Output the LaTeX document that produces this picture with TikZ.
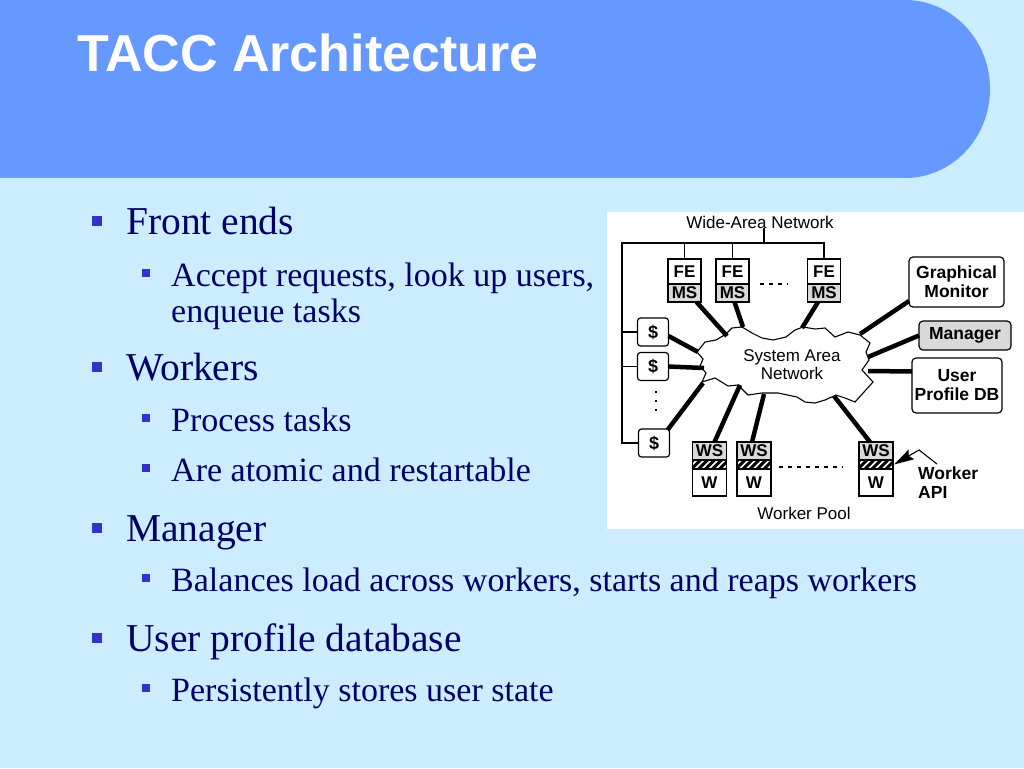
\documentclass[tikz,border=0pt]{standalone}
\usepackage{fontspec}
\setmainfont{Liberation Serif}
\newfontfamily\arialfont{Liberation Sans}
\usetikzlibrary{positioning,arrows.meta,calc}

\definecolor{slidebg}{RGB}{204,236,255}
\definecolor{titleband}{RGB}{102,153,255}
\definecolor{bodytext}{RGB}{0,0,102}
\definecolor{bulletblue}{RGB}{51,51,204}
\definecolor{boxgray}{RGB}{217,217,217}

\begin{document}
\begin{tikzpicture}[x=1pt,y=-1pt,
		headline/.style={anchor=base west, inner sep=0, text=white, font=\arialfont\bfseries\fontsize{52pt}{60pt}\selectfont},
		itemA/.style={anchor=base west, inner sep=0, text=bodytext, font=\fontsize{39.5pt}{47pt}\selectfont},
		itemB/.style={anchor=base west, inner sep=0, text=bodytext, font=\fontsize{34pt}{40pt}\selectfont},
		bulletA/.style={fill=bulletblue, inner sep=0, minimum size=10},
		bulletB/.style={fill=bulletblue, inner sep=0, minimum size=8},
		netlabel/.style={inner sep=0, align=center, font=\arialfont\fontsize{17pt}{18pt}\selectfont},
		boldlabel/.style={inner sep=0, align=center, font=\arialfont\bfseries\fontsize{17.5pt}{19pt}\selectfont},
		part/.style={draw, line width=1.2, inner sep=0, outer sep=0, font=\arialfont\bfseries\fontsize{17pt}{17pt}\selectfont},
		fepart/.style={part, fill=white, minimum width=33, minimum height=25},
		mspart/.style={part, fill=boxgray, minimum width=33, minimum height=18},
		wspart/.style={part, fill=boxgray, minimum width=34, minimum height=18},
		wpart/.style={part, fill=white, minimum width=34, minimum height=27},
		hatchpart/.style={part, fill=white, minimum width=34, minimum height=9,
			path picture={\foreach \k in {-2,...,6} \draw[line width=3] ($(path picture bounding box.south west)+(\k*7-3,2)$) -- ++(14,-14);}},
		cache/.style={part, fill=white, rounded corners=3, minimum width=31, minimum height=28, font=\arialfont\bfseries\fontsize{18pt}{18pt}\selectfont},
		sidebox/.style={draw, line width=1.2, rounded corners=4, inner sep=0, outer sep=0, align=center, font=\arialfont\bfseries\fontsize{17.5pt}{19pt}\selectfont},
		tree/.style={line width=1.1},
		wire/.style={line width=4.5}]
		%%%%% START %%%%%
		
		\useasboundingbox (0,0) rectangle (1024,768);
		\fill[slidebg] (0,0) rectangle (1024,768);
		\fill[titleband] (0,0) rectangle (905,178);
		\fill[titleband] (905,89) ellipse [x radius=85pt, y radius=89pt];
		
		\node[headline] (title) at (77,71) {TACC Architecture};
		
		% bullet list
		\node[bulletA] (p1) at (97,221) {};
		\node[itemA] (t1) at (126,234) {Front ends};
		\node[bulletB] (p1a) at (145.5,273) {};
		\node[itemB] (t1a) at (171,286) {Accept requests, look up users,};
		\node[itemB] (t1b) at (171,322) {enqueue tasks};
		
		\node[bulletA] (p2) at (97,367) {};
		\node[itemA] (t2) at (126,380) {Workers};
		\node[bulletB] (p2a) at (145.5,418) {};
		\node[itemB] (t2a) at (171,431) {Process tasks};
		\node[bulletB] (p2b) at (145.5,468) {};
		\node[itemB] (t2b) at (171,481) {Are atomic and restartable};
		
		\node[bulletA] (p3) at (97,528) {};
		\node[itemA] (t3) at (126,541) {Manager};
		\node[bulletB] (p3a) at (145.5,578) {};
		\node[itemB] (t3a) at (171,591) {Balances load across workers, starts and reaps workers};
		
		\node[bulletA] (p4) at (97,638) {};
		\node[itemA] (t4) at (126,651) {User profile database};
		\node[bulletB] (p4a) at (145.5,688) {};
		\node[itemB] (t4a) at (171,701) {Persistently stores user state};
		
		% diagram
		\fill[white] (607,212) rectangle (1024,529);
		
		\node[netlabel] (wan) at (760,222) {Wide-Area Network};
		\node[netlabel] (pool) at (804,513) {Worker Pool};
		
		\draw[tree, fill=white] (697,352) -- (705,342) -- (716,340) -- (726,334) -- (732,328) -- (742,327) -- (752,333) -- (762,338) -- (773,340) -- (786,337) -- (795,330) -- (803,327) -- (815,329) -- (825,328) -- (835,337) -- (848,332) -- (860,335) -- (870,343) -- (866,352) -- (869,360) -- (862,370) -- (873,382) -- (864,392) -- (855,402) -- (845,398) -- (836,395) -- (825,400) -- (815,403) -- (805,402) -- (797,397) -- (778,393) -- (762,393) -- (748,395) -- (738,385) -- (728,386) -- (715,378) -- (702,382) -- (706,373) -- (700,366) -- (703,359) -- cycle;
		\node[netlabel] (san) at (792,365) {System Area\\Network};
		
		\node[fepart] (fe1) at (684.5,271.5) {FE};
		\node[mspart, below=0pt of fe1] (ms1) {MS};
		\node[fepart] (fe2) at (732.5,271.5) {FE};
		\node[mspart, below=0pt of fe2] (ms2) {MS};
		\node[fepart] (fe3) at (824,271.5) {FE};
		\node[mspart, below=0pt of fe3] (ms3) {MS};
		
		\node[cache] (d1) at (653,332) {\$};
		\node[cache] (d2) at (653,366.5) {\$};
		\node[cache] (d3) at (654,443) {\$};
		
		\node[wspart] (ws1) at (709.5,451) {WS};
		\node[hatchpart, below=0pt of ws1] (h1) {};
		\node[wpart, below=0pt of h1] (w1) {W};
		\node[wspart] (ws2) at (754,451) {WS};
		\node[hatchpart, below=0pt of ws2] (h2) {};
		\node[wpart, below=0pt of h2] (w2) {W};
		\node[wspart] (ws3) at (876,451) {WS};
		\node[hatchpart, below=0pt of ws3] (h3) {};
		\node[wpart, below=0pt of h3] (w3) {W};
		
		\node[sidebox, minimum width=95, minimum height=50] (mon) at (956.5,282) {Graphical\\Monitor};
		\node[sidebox, fill=boxgray, minimum width=92, minimum height=29] (mgr) at (965,335.5) {Manager};
		\node[sidebox, minimum width=90, minimum height=55] (db) at (957,385.5) {User\\Profile DB};
		
		\node[boldlabel, align=left, anchor=north west] (api) at (918,467) {Worker\\API};
		
		% wide-area tree
		\coordinate (wanL) at (622,243);
		\draw[tree] (fe3.north) |- (wanL) |- (d3.west);
		\draw[tree] (fe1.north) -- (fe1.north |- wanL);
		\draw[tree] (fe2.north) -- (fe2.north |- wanL);
		\draw[tree] (wan.south -| 764,0) -- (764,243);
		\draw[tree] (wanL |- d1.west) -- (d1.west);
		\draw[tree] (wanL |- d2.west) -- (d2.west);
		
		% dots
		\draw[tree, dash pattern=on 4 off 5] (760,284) -- (788,284);
		\draw[tree, line width=1.6, dash pattern=on 2 off 7] (656,391) -- (656,412);
		\draw[tree, dash pattern=on 4 off 5] (779,467) -- (843,467);
		
		% links to the system area network
		\coordinate (sfe1) at (727,336);
		\coordinate (sfe2) at (743,327);
		\coordinate (sfe3) at (802,328);
		\coordinate (sd1) at (698,352);
		\coordinate (sd2) at (704,368);
		\coordinate (sd3) at (703,383);
		\coordinate (sws1) at (740,385);
		\coordinate (sws2) at (764,394);
		\coordinate (sws3) at (834,396);
		\coordinate (smon) at (860,334);
		\coordinate (smgr) at (868,357);
		\coordinate (sdb) at (868,371);
		
		\draw[wire] ([xshift=12]ms1.south) -- (sfe1);
		\draw[wire] ([xshift=2]ms2.south) -- (sfe2);
		\draw[wire] ([xshift=-6]ms3.south) -- (sfe3);
		\draw[wire] ([yshift=-4]d1.east) -- (sd1);
		\draw[wire] (d2.east) -- (sd2);
		\draw[wire] ([xshift=-2,yshift=-1]d3.north east) -- (sd3);
		\draw[wire] ([xshift=5]ws1.north) -- (sws1);
		\draw[wire] ([xshift=-2]ws2.north) -- (sws2);
		\draw[wire] ([xshift=-6]ws3.north) -- (sws3);
		\draw[wire] ([yshift=6]mon.south west) -- (smon);
		\draw[wire] (mgr.west) -- (smgr);
		\draw[wire] ([yshift=14]db.west) -- (sdb);
		
		\coordinate (apibend) at (919,450);
		\draw[tree, -{Stealth[length=20pt,width=11pt,inset=3pt]}] ([xshift=19,yshift=3]api.north west) -- (apibend) -- ([xshift=1]h3.east);
		
		%%%%% END %%%%%
	\end{tikzpicture}
\end{document}
